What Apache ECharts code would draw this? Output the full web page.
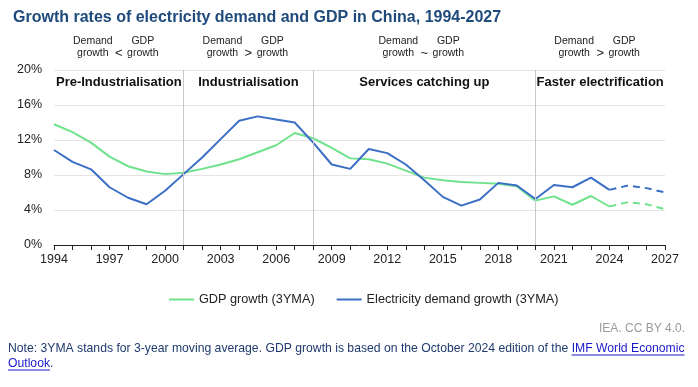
<!DOCTYPE html>
<html>
<head>
<meta charset="utf-8">
<script src="https://cdn.jsdelivr.net/npm/echarts@6/dist/echarts.min.js"></script>
<style>html,body{margin:0;padding:0;background:#fff;}#c{width:698px;height:387px;}</style>
</head>
<body>
<div id="c"></div>
<script>
const years = [];
for (let y = 1994; y <= 2027; y++) years.push(String(y));

const gdpGrowth = [13.8,12.9,11.7,10.1,9.0,8.4,8.1,8.26,8.7,9.2,9.8,10.6,11.4,12.8,12.2,11.1,9.9,9.8,9.3,8.5,7.7,7.4,7.2,7.1,7.0,6.7,5.07,5.56,4.6,5.6,4.4,4.9,4.65,4.1];
const elecGrowth = [10.86,9.5,8.65,6.6,5.4,4.65,6.2,8.1,10.0,12.1,14.2,14.7,14.35,14.0,11.7,9.2,8.7,10.97,10.5,9.2,7.4,5.5,4.5,5.2,7.1,6.8,5.26,6.86,6.6,7.7,6.3,6.8,6.5,6.0];
const forecastStart = '2024';

const phases = [
  {from:'1994', to:'2001', name:'Pre-Industrialisation', sign:'<'},
  {from:'2001', to:'2008', name:'Industrialisation', sign:'>'},
  {from:'2008', to:'2020', name:'Services catching up', sign:'~'},
  {from:'2020', to:'2027', name:'Faster electrification', sign:'>'}
];
const separators = ['2001','2008','2020'];

const fi = years.indexOf(forecastStart);
const solid = arr => arr.map((v,i)=> i<=fi ? v : null);
const dashed = arr => arr.map((v,i)=> i>=fi ? v : null);

const GREEN = '#6fe38c', BLUE = '#3b6fc6';
const FONT = 'Liberation Sans, Arial, sans-serif';

const chart = echarts.init(document.getElementById('c'), null, {renderer:'canvas'});
const option = {
  animation:false,
  textStyle:{fontFamily:FONT},
  title:{text:'Growth rates of electricity demand and GDP in China, 1994-2027', left:8, top:5,
    textStyle:{fontSize:16, fontWeight:'bold', color:'#1f4a7c', fontFamily:FONT}},
  grid:{left:54, right:33, top:70, bottom:142},
  legend:{
    data:['GDP growth (3YMA)','Electricity demand growth (3YMA)'],
    top:288, left:164, icon:'rect', itemWidth:25, itemHeight:2, itemGap:22,
    textStyle:{fontSize:12.7, color:'#222', fontFamily:FONT}
  },
  xAxis:{type:'category', data:years, boundaryGap:false,
    axisLine:{lineStyle:{color:'#222', width:1}},
    axisTick:{interval:0, length:5, lineStyle:{color:'#222'}},
    axisLabel:{interval:2, color:'#222', fontSize:12.5, margin:8, fontFamily:FONT},
    splitLine:{show:false}},
  yAxis:{type:'value', min:0, max:20, interval:4,
    axisLine:{show:false}, axisTick:{show:false},
    axisLabel:{formatter:'{value}%', color:'#222', fontSize:12.5, margin:12, fontFamily:FONT},
    splitLine:{lineStyle:{color:'#e4e4e4', width:1}}},
  series:[
    {name:'GDP growth (3YMA)', type:'line', data:solid(gdpGrowth), showSymbol:false, symbol:'none',
      lineStyle:{color:GREEN, width:2}, itemStyle:{color:GREEN}, z:3,
      markArea:{silent:true, itemStyle:{color:'rgba(0,0,0,0)'},
        label:{show:true, position:'insideTop', distance:6, fontWeight:'bold', fontSize:13, color:'#111', fontFamily:FONT},
        data:phases.map(p=>[{xAxis:p.from, name:p.name},{xAxis:p.to}])}},
    {name:'GDP growth (3YMA)', type:'line', data:dashed(gdpGrowth), showSymbol:false, symbol:'none',
      lineStyle:{color:GREEN, width:2, type:[7,5]}, itemStyle:{color:GREEN}, z:3},
    {name:'Electricity demand growth (3YMA)', type:'line', data:solid(elecGrowth), showSymbol:false, symbol:'none',
      lineStyle:{color:BLUE, width:2}, itemStyle:{color:BLUE}, z:4,
      markLine:{silent:true, symbol:'none', label:{show:false}, animation:false,
        lineStyle:{color:'#c8c8c8', width:1, type:'solid'},
        data:separators.map(s=>({xAxis:s}))}},
    {name:'Electricity demand growth (3YMA)', type:'line', data:dashed(elecGrowth), showSymbol:false, symbol:'none',
      lineStyle:{color:BLUE, width:2, type:[7,5]}, itemStyle:{color:BLUE}, z:4}
  ]
};
chart.setOption(option);

const g = [];
const hs = {fontSize:10.5, fill:'#222', fontFamily:FONT};
phases.forEach(p=>{
  const x1 = chart.convertToPixel({xAxisIndex:0}, p.from);
  const x2 = chart.convertToPixel({xAxisIndex:0}, p.to);
  const cx = (x1+x2)/2;
  g.push({type:'text', x:cx-26, y:47, style:Object.assign({text:'Demand\ngrowth', align:'center', verticalAlign:'middle', lineHeight:12}, hs)});
  g.push({type:'text', x:cx+24, y:47, style:Object.assign({text:'GDP\ngrowth', align:'center', verticalAlign:'middle', lineHeight:12}, hs)});
  g.push({type:'text', x:cx, y:53, style:{text:p.sign, align:'center', verticalAlign:'middle', fontSize:13, fill:'#222', fontFamily:FONT}});
});
g.push({type:'text', right:13, top:323, style:{text:'IEA. CC BY 4.0.', fontSize:12, fill:'#9a9a9a', fontFamily:FONT}});

const NOTE_FS = 12.2;
const noteA = 'Note: 3YMA stands for 3-year moving average. GDP growth is based on the October 2024 edition of the ';
const linkA = 'IMF World Economic';
const linkB = 'Outlook';
g.push({type:'text', x:8, y:341, style:{text:noteA + '{l|' + linkA + '}\n{l|' + linkB + '}.', fontSize:NOTE_FS, lineHeight:15, fill:'#1f3a6e', fontFamily:FONT,
  rich:{l:{fill:'#1a1acc', fontSize:NOTE_FS, fontFamily:FONT}}}});
// underlines for link text
const ctx = document.createElement('canvas').getContext('2d');
ctx.font = NOTE_FS + 'px ' + FONT;
const wA = ctx.measureText(noteA).width, wL = ctx.measureText(linkA).width, wB = ctx.measureText(linkB).width;
g.push({type:'line', shape:{x1:8+wA, y1:355, x2:8+wA+wL, y2:355}, style:{stroke:'#1a1acc', lineWidth:1}});
g.push({type:'line', shape:{x1:8, y1:370, x2:8+wB, y2:370}, style:{stroke:'#1a1acc', lineWidth:1}});
chart.setOption({graphic:g});
</script>
</body>
</html>
